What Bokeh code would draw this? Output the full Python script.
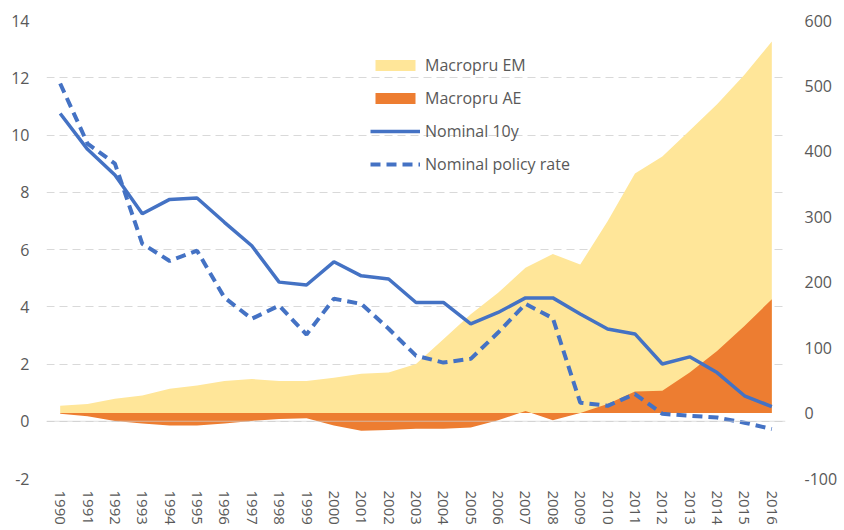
from bokeh.plotting import figure
from bokeh.models import (Range1d, LinearAxis, FixedTicker, FactorRange, Legend,
                          LegendItem, Span, ColumnDataSource)
from bokeh.embed import file_html
from bokeh.resources import INLINE

years = ["1990", "1991", "1992", "1993", "1994", "1995", "1996", "1997", "1998",
         "1999", "2000", "2001", "2002", "2003", "2004", "2005", "2006", "2007",
         "2008", "2009", "2010", "2011", "2012", "2013", "2014", "2015", "2016"]

# right axis (index)
macropru_em = [11, 14, 22, 27, 37, 42, 49, 52, 49, 49, 54, 60, 62, 75, 113, 151,
               184, 222, 243, 227, 293, 366, 392, 432, 472, 517, 568]
macropru_ae = [-1, -5, -12, -16, -19, -19, -16, -12, -9, -8, -19, -27, -26, -24,
               -24, -22, -11, 3, -11, 0, 14, 33, 34, 62, 95, 133, 174]

# left axis (percent)
nominal_10y = [10.75, 9.5, 8.6, 7.25, 7.75, 7.8, 6.95, 6.13, 4.86, 4.76, 5.57,
               5.08, 4.97, 4.15, 4.15, 3.4, 3.8, 4.31, 4.31, 3.75, 3.22, 3.05,
               2.0, 2.25, 1.7, 0.89, 0.51]
nominal_policy = [11.8, 9.7, 9.0, 6.2, 5.6, 5.96, 4.32, 3.58, 4.04, 3.03, 4.28,
                  4.1, 3.23, 2.29, 2.05, 2.18, 3.1, 4.1, 3.6, 0.65, 0.54, 0.95,
                  0.26, 0.19, 0.13, -0.05, -0.27]

left_ticks = [-2, 0, 2, 4, 6, 8, 10, 12, 14]
right_ticks = [-100, 0, 100, 200, 300, 400, 500, 600]

src = ColumnDataSource(dict(x=years, em=macropru_em, ae=macropru_ae,
                            n10=nominal_10y, pol=nominal_policy))

FONT = "Open Sans"
TXT = "#595959"

p = figure(width=840, height=530, x_range=FactorRange(*years),
           y_range=Range1d(-2, 14), output_backend="svg", toolbar_location=None,
           min_border_left=46, min_border_right=52, min_border_top=20,
           min_border_bottom=52)
p.outline_line_color = None
p.background_fill_color = "white"
p.extra_y_ranges = {"right": Range1d(-100, 600)}

r_em = p.varea(x="x", y1=0, y2="em", source=src, y_range_name="right",
               fill_color="#FFE699")
r_ae = p.varea(x="x", y1=0, y2="ae", source=src, y_range_name="right",
               fill_color="#ED7D31")

zero = Span(location=0, dimension="width", line_color="#d0d0d0", line_width=1.2,
            line_alpha=0.7, level="glyph")
p.add_layout(zero)

r_10 = p.line(x="x", y="n10", source=src, line_color="#4472C4", line_width=3.5)
r_pol = p.line(x="x", y="pol", source=src, line_color="#4472C4", line_width=4,
               line_dash="10 6")

# axes
p.xaxis.major_label_orientation = "vertical"
p.yaxis.ticker = FixedTicker(ticks=left_ticks)
p.yaxis.major_label_overrides = {-2: "-2"}
ax_r = LinearAxis(y_range_name="right", ticker=FixedTicker(ticks=right_ticks))
ax_r.major_label_overrides = {-100: "-100"}
p.add_layout(ax_r, "right")

for ax in [p.xaxis[0], p.yaxis[0], ax_r]:
    ax.axis_line_color = None
    ax.major_tick_line_color = None
    ax.minor_tick_line_color = None
    ax.major_tick_out = 0
    ax.major_tick_in = 0
    ax.major_label_text_font = FONT
    ax.major_label_text_color = TXT
    ax.major_label_text_font_size = "16px"
p.xaxis.major_label_text_font_size = "15px"
p.xaxis.major_label_standoff = 12
p.yaxis[0].major_label_standoff = 17
ax_r.major_label_standoff = 19

p.xgrid.visible = False
p.ygrid.grid_line_color = "#d9d9d9"
p.ygrid.grid_line_dash = "8 5"
p.ygrid.grid_line_width = 1.2

legend = Legend(items=[
    LegendItem(label="Macropru EM", renderers=[r_em]),
    LegendItem(label="Macropru AE", renderers=[r_ae]),
    LegendItem(label="Nominal 10y", renderers=[r_10]),
    LegendItem(label="Nominal policy rate", renderers=[r_pol]),
], location=(324, 303))
legend.padding = 0
legend.margin = 0
legend.spacing = 11
legend.glyph_width = 50
legend.glyph_height = 14
legend.label_height = 20
legend.label_standoff = 5
legend.label_text_font = FONT
legend.label_text_font_size = "16px"
legend.label_text_color = TXT
legend.background_fill_alpha = 0
legend.border_line_color = None
p.add_layout(legend, "center")

open("out.html", "w").write(file_html(p, INLINE))
